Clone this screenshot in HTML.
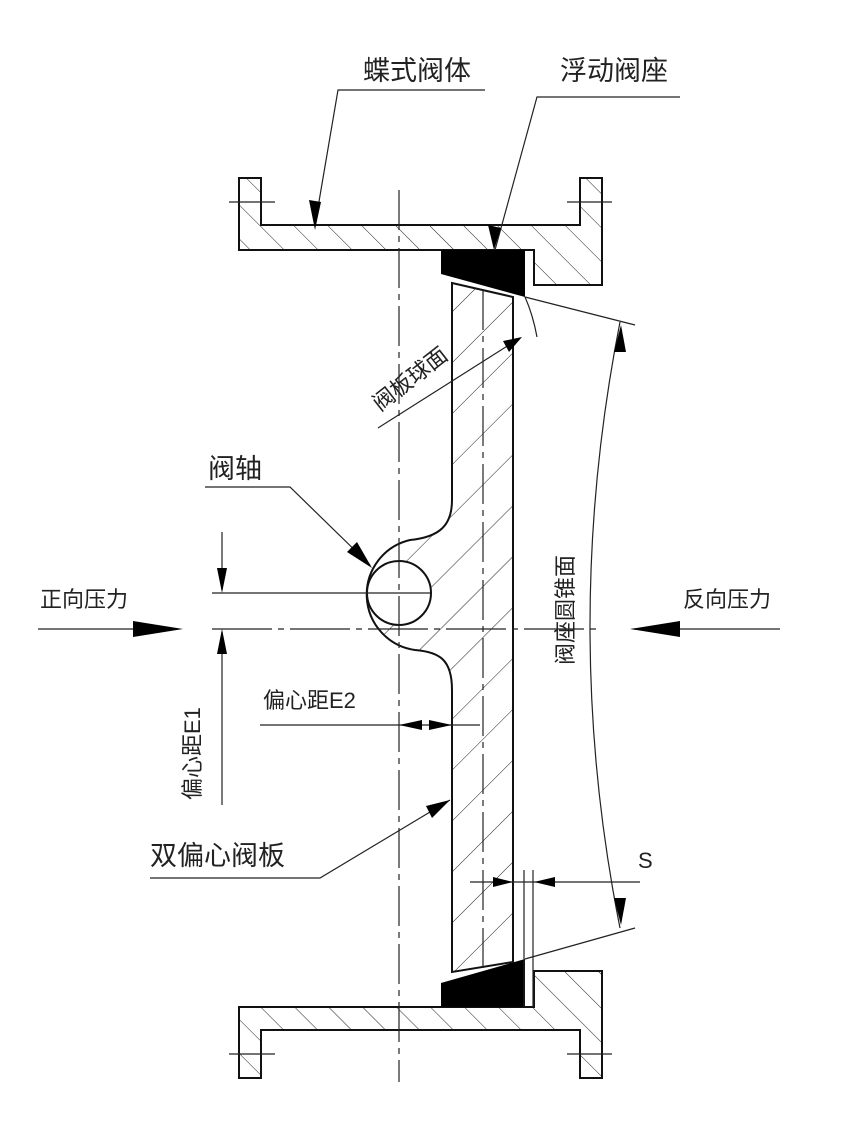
<!DOCTYPE html>
<html><head><meta charset="utf-8"><style>
html,body{margin:0;padding:0;background:#fff;}
svg{display:block}
text{font-family:"Liberation Sans","Noto Sans CJK SC",sans-serif;fill:#222;}
</style></head><body>
<svg width="849" height="1130" viewBox="0 0 849 1130" xmlns="http://www.w3.org/2000/svg">
<defs>
<pattern id="hb" patternUnits="userSpaceOnUse" width="24" height="24" patternTransform="rotate(-45)">
<line x1="0" y1="0" x2="0" y2="24" stroke="#222" stroke-width="1"/></pattern>
<pattern id="hd" patternUnits="userSpaceOnUse" width="36" height="36" patternTransform="rotate(45)">
<line x1="0" y1="0" x2="0" y2="36" stroke="#222" stroke-width="1"/></pattern>
</defs>
<g stroke="#111" stroke-width="2" fill="url(#hb)">
<path d="M239,178 H261 V225 H580 V178 H602 V285 H534 V250 H239 Z"/>
<path d="M239,1078 H261 V1030 H580 V1078 H602 V971 H534 V1007 H239 Z"/>
</g>
<path d="M441,250 H525 V297 L441,274 Z" fill="#000"/>
<path d="M441,1007 H525 V959 L441,983 Z" fill="#000"/>
<path d="M452,283 L513,297 V962 L452,972 V690 C452,660 440,652 415,650 A56,56 0 0 1 410,540 C440,537 452,525 452,500 Z" fill="url(#hd)" stroke="#111" stroke-width="2"/>
<circle cx="399" cy="593" r="32" fill="#fff" stroke="#111" stroke-width="2"/>
<g stroke="#222" stroke-width="1.2" fill="none">
<line x1="399" y1="190" x2="399" y2="1082" stroke-dasharray="40,6,6,6"/>
<line x1="483" y1="290" x2="483" y2="968" stroke-dasharray="40,6,6,6"/>
<line x1="212" y1="629" x2="600" y2="629" stroke-dasharray="60,6,6,6"/>
<line x1="212" y1="593" x2="430" y2="593"/>
<line x1="229" y1="202" x2="275" y2="202"/><line x1="567" y1="202" x2="612" y2="202"/>
<line x1="229" y1="1054" x2="275" y2="1054"/><line x1="567" y1="1054" x2="612" y2="1054"/>
<polyline points="485,90 338,90 315,225"/>
<polyline points="680,97 537,97 495,250"/>
<polyline points="205,487 290,487 370,565"/>
<polyline points="150,878 320,878 450,800"/>
<line x1="378" y1="428" x2="520" y2="338"/>
<path d="M525,297 Q533,315 537,337"/>
<line x1="525" y1="297" x2="635" y2="325"/>
<line x1="525" y1="959" x2="635" y2="928"/>
<path d="M620,322 Q560,627 620,928"/>
<line x1="38" y1="629" x2="140" y2="629"/>
<line x1="680" y1="629" x2="780" y2="629"/>
<line x1="222" y1="532" x2="222" y2="590"/>
<line x1="222" y1="632" x2="222" y2="805"/>
<line x1="260" y1="725" x2="480" y2="725"/>
<line x1="524" y1="870" x2="524" y2="1007"/>
<line x1="533" y1="870" x2="533" y2="1007"/>
<line x1="470" y1="882" x2="640" y2="882"/>
</g>
<g fill="#000">
<polygon points="315,230 309,200 321,202"/>
<polygon points="494,250 488,225 501,228"/>
<polygon points="372,568 347,552 357,542"/>
<polygon points="450,800 426,806 432,818"/>
<polygon points="522,337 503,341 509,352"/>
<polygon points="183,629 133,621 133,637"/>
<polygon points="630,629 680,621 680,637"/>
<polygon points="222,593 217,568 227,568"/>
<polygon points="222,629 217,654 227,654"/>
<polygon points="399,725 422,720 422,730"/>
<polygon points="452,725 429,720 429,730"/>
<polygon points="513,882 493,877 493,887"/>
<polygon points="534,882 555,877 555,887"/>
<polygon points="621,325 614,352 626,352"/>
<polygon points="621,925 614,898 626,898"/>
</g>
<g font-size="27">
<text x="363" y="80">蝶式阀体</text>
<text x="560" y="80">浮动阀座</text>
<text x="208" y="478">阀轴</text>
<text x="150" y="865">双偏心阀板</text>
</g>
<g font-size="22">
<text x="40" y="607">正向压力</text>
<text x="683" y="607">反向压力</text>
<text x="263" y="708">偏心距E2</text>
<text x="638" y="868">S</text>
<text transform="translate(380,412) rotate(-38)">阀板球面</text>
<text transform="translate(200,800) rotate(-90)">偏心距E1</text>
<text transform="translate(573,665) rotate(-90)">阀座圆锥面</text>
</g>
</svg>
</body></html>
